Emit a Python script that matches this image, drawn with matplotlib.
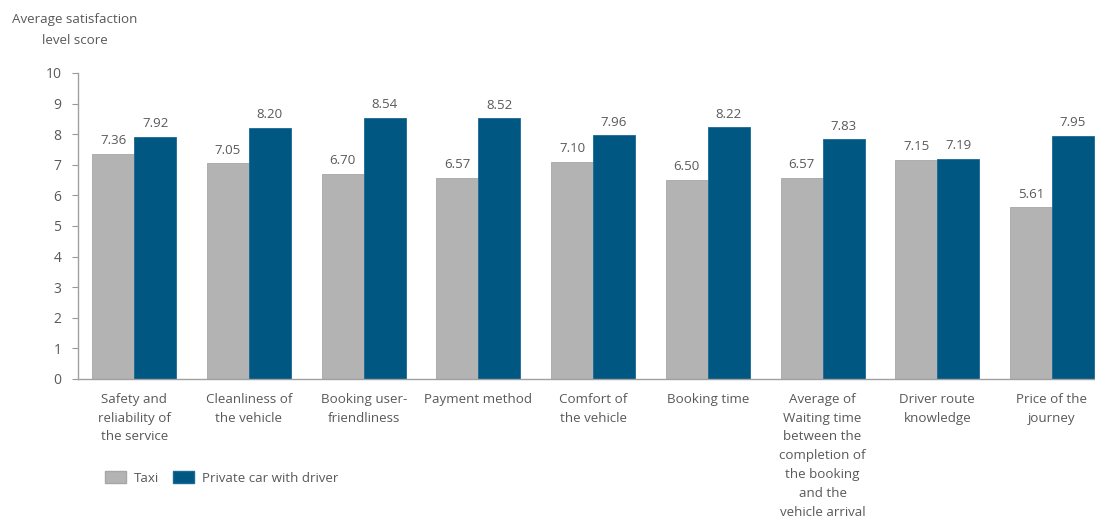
import numpy as np
import matplotlib.pyplot as plt
from matplotlib.patches import Patch

# Satisfaction scores per service aspect
categories = [
    "Safety and\nreliability of\nthe service",
    "Cleanliness of\nthe vehicle",
    "Booking user-\nfriendliness",
    "Payment method",
    "Comfort of\nthe vehicle",
    "Booking time",
    "Average of\nWaiting time\nbetween the\ncompletion of\nthe booking\nand the\nvehicle arrival",
    "Driver route\nknowledge",
    "Price of the\njourney",
]
taxi = [7.36, 7.05, 6.70, 6.57, 7.10, 6.50, 6.57, 7.15, 5.61]
private_car = [7.92, 8.20, 8.54, 8.52, 7.96, 8.22, 7.83, 7.19, 7.95]

grey = "#b3b3b3"
blue = "#005782"
text_col = "#595959"

plt.rcParams['font.family'] = ['Open Sans', 'DejaVu Sans']

W, H = 1095, 517
fig = plt.figure(figsize=(W / 100, H / 100), dpi=100)
ax = fig.add_axes([78 / W, (H - 379) / H, (W - 78) / W, (379 - 73) / H])

x = np.arange(len(categories))
w = 0.366
b1 = ax.bar(x - w / 2, taxi, w, color=grey, edgecolor="#a6a6a6", linewidth=0.6)
b2 = ax.bar(x + w / 2, private_car, w, color=blue, edgecolor="#1a6a96", linewidth=0.6)

for bars, vals in ((b1, taxi), (b2, private_car)):
    for bar, v in zip(bars, vals):
        ax.text(bar.get_x() + bar.get_width() / 2, v + 0.22, f"{v:.2f}",
                ha="center", va="bottom", fontsize=9.5, color=text_col)

ax.set_ylim(0, 10)
ax.set_yticks(range(0, 11))
ax.set_xlim(-0.49, 8.375)
ax.set_xticks(x)
ax.set_xticklabels(categories, fontsize=9.6, color=text_col, linespacing=1.58, va="top")
ax.tick_params(axis="x", length=0, pad=10)
ax.tick_params(axis="y", length=4, width=0.8, color="#999999", labelsize=10,
               labelcolor=text_col, pad=8)

for s in ("top", "right"):
    ax.spines[s].set_visible(False)
for s in ("left", "bottom"):
    ax.spines[s].set_color("#a0a0a0")
    ax.spines[s].set_linewidth(1.0)

fig.text(75 / W, 1 - 30 / H, "Average satisfaction\nlevel score", ha="center", va="center",
         fontsize=9.6, color=text_col, linespacing=1.75)

handles = [Patch(facecolor=grey, edgecolor="#a6a6a6", label="Taxi"),
           Patch(facecolor=blue, edgecolor="#1a6a96", label="Private car with driver")]
fig.legend(handles=handles, loc="center left", bbox_to_anchor=(93 / W, 1 - 478 / H),
           ncol=2, frameon=False, fontsize=9.6, labelcolor=text_col,
           handlelength=1.6, handleheight=1.0, columnspacing=1.0, handletextpad=0.6)

fig.savefig("out.png", dpi=100)
